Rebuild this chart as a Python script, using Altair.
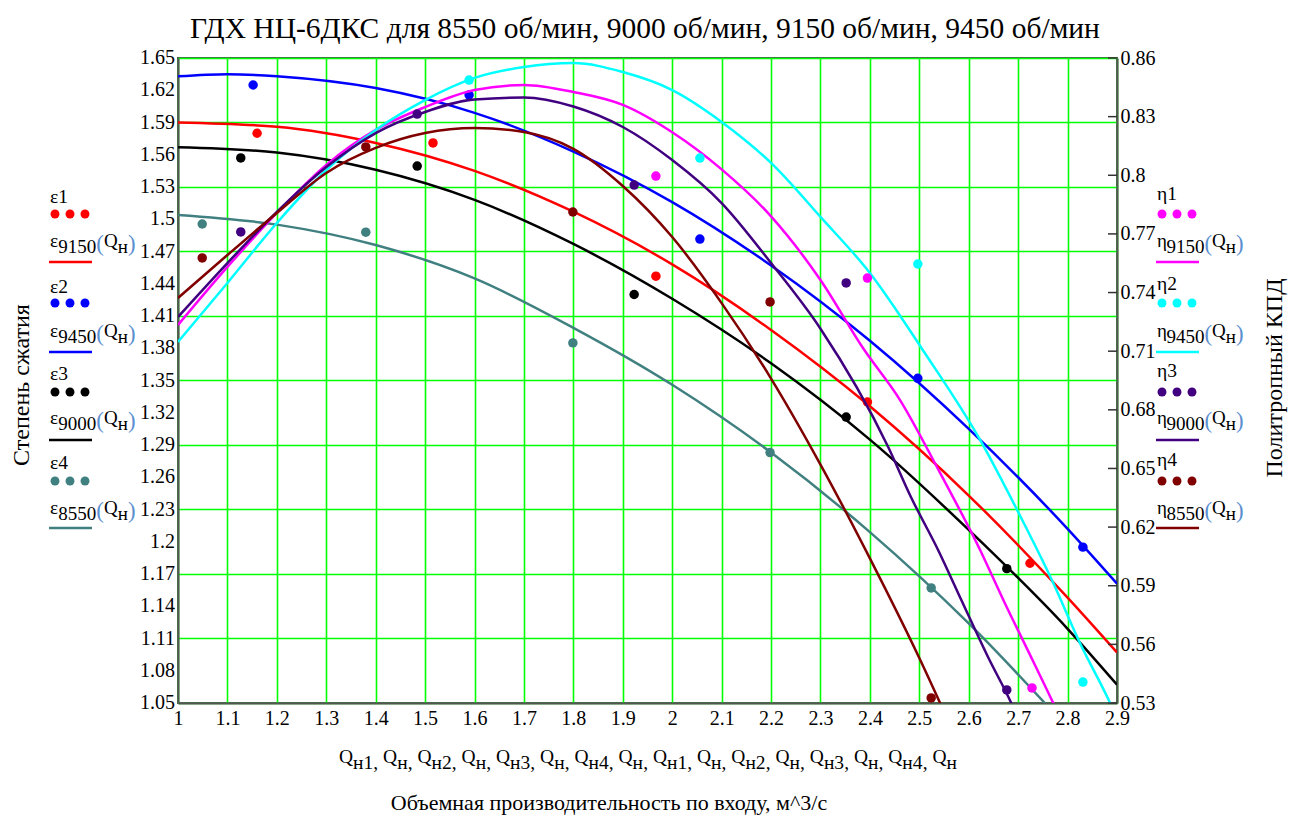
import altair as alt
import pandas as pd

# ---------------- data ----------------
X_TICKS = [1.0, 1.1, 1.2, 1.3, 1.4, 1.5, 1.6, 1.7, 1.8, 1.9, 2.0,
           2.1, 2.2, 2.3, 2.4, 2.5, 2.6, 2.7, 2.8, 2.9]
EPS_TICKS = [1.05, 1.08, 1.11, 1.14, 1.17, 1.2, 1.23, 1.26, 1.29, 1.32, 1.35,
             1.38, 1.41, 1.44, 1.47, 1.5, 1.53, 1.56, 1.59, 1.62, 1.65]
EPS_LABELS = ["1.05", "1.08", "1.11", "1.14", "1.17", "1.2", "1.23", "1.26", "1.29", "1.32", "1.35",
              "1.38", "1.41", "1.44", "1.47", "1.5", "1.53", "1.56", "1.59", "1.62", "1.65"]
ETA_TICKS = [0.53, 0.56, 0.59, 0.62, 0.65, 0.68, 0.71, 0.74, 0.77, 0.8, 0.83, 0.86]

# measured points (Q, eps) per speed
q_9150 = [1.160, 1.516, 1.967, 2.395, 2.724]
eps1 = [1.580, 1.571, 1.447, 1.330, 1.180]
q_9450 = [1.152, 1.589, 2.056, 2.497, 2.831]
eps2 = [1.6249, 1.6156, 1.4816, 1.352, 1.195]
q_9000 = [1.127, 1.484, 1.923, 2.352, 2.677]
eps3 = [1.557, 1.5495, 1.430, 1.316, 1.175]
q_8550 = [1.049, 1.380, 1.799, 2.198, 2.524]
eps4 = [1.4956, 1.488, 1.385, 1.283, 1.157]

# measured points (Q, eta) that are visible
qh_9150 = [1.967, 2.395, 2.728]
eta1 = [0.7996, 0.7474, 0.5377]
qh_9450 = [1.589, 2.056, 2.497, 2.831]
eta2 = [0.8487, 0.8088, 0.7546, 0.5407]
qh_9000 = [1.127, 1.484, 1.923, 2.352, 2.677]
eta3 = [0.771, 0.8313, 0.795, 0.7449, 0.5367]
qh_8550 = [1.049, 1.380, 1.799, 2.198, 2.524]
eta4 = [0.7577, 0.8145, 0.7812, 0.7352, 0.5326]

# fitted curves
cq_e = [1.0, 1.2, 1.4, 1.6, 1.8, 2.0, 2.2, 2.4, 2.6, 2.8, 2.9]
e9150 = [1.590, 1.586, 1.571, 1.545, 1.507, 1.458, 1.397, 1.326, 1.243, 1.148, 1.097]
cq_e9450 = [1.0, 1.1, 1.2, 1.4, 1.6, 1.8, 2.0, 2.2, 2.4, 2.6, 2.8, 2.9]
e9450 = [1.633, 1.635, 1.633, 1.622, 1.599, 1.563, 1.516, 1.457, 1.387, 1.305, 1.212, 1.161]
e9000 = [1.567, 1.562, 1.546, 1.518, 1.477, 1.426, 1.366, 1.295, 1.211, 1.119, 1.067]
cq_e8550 = [1.0, 1.2, 1.4, 1.6, 1.8, 2.0, 2.2, 2.4, 2.6, 2.8]
e8550 = [1.504, 1.495, 1.476, 1.445, 1.399, 1.346, 1.283, 1.209, 1.124, 1.027]

cq_h9150 = [1.0, 1.1, 1.2, 1.3, 1.4, 1.5, 1.6, 1.7, 1.8, 1.9, 2.0, 2.1, 2.2, 2.3,
            2.386, 2.461, 2.542, 2.623, 2.670, 2.731, 2.771, 2.8]
h9150 = [0.7234, 0.7531, 0.7807, 0.8053, 0.8232, 0.8349, 0.8436, 0.8462, 0.8426, 0.836,
         0.822, 0.803, 0.779, 0.7464, 0.7116, 0.685, 0.6477, 0.6083, 0.5827, 0.551, 0.53, 0.515]
cq_h9450 = [1.0, 1.1, 1.2, 1.3, 1.4, 1.5, 1.6, 1.7, 1.8, 1.9, 2.0, 2.1, 2.2, 2.3, 2.4,
            2.507, 2.623, 2.698, 2.771, 2.825, 2.886, 2.92]
h9450 = [0.7147, 0.7449, 0.7756, 0.8027, 0.8232, 0.8385, 0.8498, 0.8554, 0.8574, 0.8528,
         0.8436, 0.8273, 0.8063, 0.7787, 0.75, 0.7106, 0.6646, 0.6287, 0.5914, 0.5607, 0.53, 0.51]
cq_h9000 = [1.0, 1.1, 1.2, 1.3, 1.4, 1.5, 1.6, 1.7, 1.8, 1.9, 2.0, 2.1, 2.2, 2.3,
            2.437, 2.483, 2.538, 2.585, 2.639, 2.686, 2.72]
h9000 = [0.7275, 0.7551, 0.7812, 0.8042, 0.8216, 0.8324, 0.8388, 0.8398, 0.8352, 0.8247,
         0.8078, 0.7858, 0.7551, 0.7215, 0.661, 0.6354, 0.6083, 0.5827, 0.5535, 0.53, 0.51]
cq_h8550 = [1.0, 1.1, 1.2, 1.3, 1.4, 1.5, 1.6, 1.7, 1.8, 1.9, 2.0, 2.1, 2.2, 2.3, 2.4, 2.5, 2.56]
h8550 = [0.7372, 0.7592, 0.7807, 0.8012, 0.814, 0.8216, 0.8242, 0.8221, 0.8135, 0.7945,
         0.7684, 0.7346, 0.696, 0.652, 0.604, 0.553, 0.52]

RED, BLUE, BLACK, TEAL = "#ff0000", "#0000ff", "#000000", "#408080"
MAG, CYAN, PURP, BROWN = "#ff00ff", "#00ffff", "#400080", "#800000"

TITLE = "ГДХ НЦ-6ДКС для 8550 об/мин, 9000 об/мин, 9150 об/мин, 9450 об/мин"
XTITLE = "Объемная производительность по входу, м^3/с"
YTITLE_L = "Степень сжатия"
YTITLE_R = "Политропный КПД"

FONT = "Liberation Serif"
W, H = 939, 645
OX, OY = 178, 58  # plot origin in the page

# ---------------- tables ----------------
def pts(q, v, c, s):
    return pd.DataFrame({"q": q, "v": v, "c": c, "s": s})

eps_pts = pd.concat([pts(q_9150, eps1, RED, "e1"), pts(q_9450, eps2, BLUE, "e2"),
                     pts(q_9000, eps3, BLACK, "e3"), pts(q_8550, eps4, TEAL, "e4")])
eta_pts = pd.concat([pts(qh_9150, eta1, MAG, "h1"), pts(qh_9450, eta2, CYAN, "h2"),
                     pts(qh_9000, eta3, PURP, "h3"), pts(qh_8550, eta4, BROWN, "h4")])
eps_lines = pd.concat([pts(cq_e, e9150, RED, "e9150"), pts(cq_e9450, e9450, BLUE, "e9450"),
                       pts(cq_e, e9000, BLACK, "e9000"), pts(cq_e8550, e8550, TEAL, "e8550")])
eta_lines = pd.concat([pts(cq_h9150, h9150, MAG, "h9150"), pts(cq_h9450, h9450, CYAN, "h9450"),
                       pts(cq_h9000, h9000, PURP, "h9000"), pts(cq_h8550, h8550, BROWN, "h8550")])

xs = alt.Scale(domain=[1.0, 2.9], nice=False, zero=False)
ys_e = alt.Scale(domain=[1.05, 1.65], nice=False, zero=False)
ys_h = alt.Scale(domain=[0.53, 0.86], nice=False, zero=False)

TICK_FS = 20
x_axis = alt.Axis(values=X_TICKS, format=".1~f", grid=True, gridColor="#00ff00",
                  gridWidth=1.6, tickSize=0, labelFont=FONT, labelFontSize=TICK_FS,
                  labelColor="#000", labelPadding=5, domainColor="#555", domainWidth=2,
                  title=None, labelFlush=False, labelOverlap=False)
yl_axis = alt.Axis(values=EPS_TICKS, grid=True, gridColor="#00ff00",
                   gridWidth=1.6, tickSize=0, labels=False,
                   domainColor="#555", domainWidth=2, title=None, orient="left")
yr_axis = alt.Axis(values=ETA_TICKS, format=".2~f", grid=False, tickSize=0,
                   labelFont=FONT, labelFontSize=TICK_FS, labelColor="#000", labelPadding=3,
                   domainColor="#555", domainWidth=2, title=None, orient="right",
                   labelFlush=False, labelOverlap=False)

eps_line_l = alt.Chart(eps_lines).mark_line(strokeWidth=2.5, clip=True, interpolate="monotone").encode(
    x=alt.X("q:Q", scale=xs, axis=x_axis),
    y=alt.Y("v:Q", scale=ys_e, axis=yl_axis),
    color=alt.Color("c:N", scale=None), detail="s:N")
eps_pt_l = alt.Chart(eps_pts).mark_circle(size=90, opacity=1, clip=True).encode(
    x=alt.X("q:Q", scale=xs), y=alt.Y("v:Q", scale=ys_e),
    color=alt.Color("c:N", scale=None))
eps_labels = alt.Chart(pd.DataFrame({"t": EPS_TICKS, "lab": EPS_LABELS})).mark_text(
    align="right", baseline="middle", font=FONT, fontSize=TICK_FS, color="#000", dx=-3).encode(
    y=alt.Y("t:Q", scale=ys_e), x=alt.value(0), text="lab:N")
eps_group = alt.layer(eps_line_l, eps_pt_l, eps_labels)

eta_line_l = alt.Chart(eta_lines).mark_line(strokeWidth=2.5, clip=True, interpolate="monotone").encode(
    x=alt.X("q:Q", scale=xs),
    y=alt.Y("v:Q", scale=ys_h, axis=yr_axis),
    color=alt.Color("c:N", scale=None), detail="s:N")
eta_pt_l = alt.Chart(eta_pts).mark_circle(size=90, opacity=1, clip=True).encode(
    x=alt.X("q:Q", scale=xs), y=alt.Y("v:Q", scale=ys_h),
    color=alt.Color("c:N", scale=None))
eta_ticks = alt.Chart(pd.DataFrame({"t": ETA_TICKS})).mark_rule(color="#333", strokeWidth=1.5).encode(
    y=alt.Y("t:Q", scale=ys_h), x=alt.value(W - 9), x2=alt.value(W))
eta_group = alt.layer(eta_line_l, eta_pt_l, eta_ticks)

# ---------------- legend / caption text (page pixel layout) ----------------
CW = {"Q": 0.722, "н": 0.54, "ε": 0.44, "η": 0.5, "(": 0.333, ")": 0.333,
      ",": 0.25, " ": 0.25, ".": 0.25, "/": 0.278}

def width(s, fs):
    return sum(CW.get(ch, 0.5) for ch in s) * fs

rows = []

def rich(pieces, x0, yb, fs):
    x = x0
    for txt, kind, col in pieces:
        f = fs * 1.2 if kind == "p" else fs
        dy = {"n": 0, "s": 6, "p": 4}[kind]
        rows.append({"px": x - OX, "py": yb + dy - OY, "text": txt, "fs": f, "color": col})
        x += width(txt, f)
    return x

PAREN = "#5b8fd0"
legend_y = {"name": [203, 293, 380, 469], "dots": [214, 303, 392, 481],
            "func": [247, 337, 424, 514], "line": [262, 352, 440, 528]}
left_items = [("ε1", "9150", RED), ("ε2", "9450", BLUE), ("ε3", "9000", BLACK), ("ε4", "8550", TEAL)]
right_items = [("η1", "9150", MAG), ("η2", "9450", CYAN), ("η3", "9000", PURP), ("η4", "8550", BROWN)]

dots, lines = [], []
for items, x0, dy_name in ((left_items, 50, 0), (right_items, 1157, -3)):
    for i, (nm, sp, col) in enumerate(items):
        rows.append({"px": x0 - OX, "py": legend_y["name"][i] + dy_name - OY, "text": nm,
                     "fs": 19.5, "color": "#000"})
        sym = nm[0]
        rich([(sym, "n", "#000"), (sp, "s", "#000"), ("(", "p", PAREN), ("Q", "n", "#000"),
              ("н", "s", "#000"), (")", "p", PAREN)], x0, legend_y["func"][i], 19)
        for k in range(3):
            dots.append({"px": x0 + 5 + 15 * k - OX, "py": legend_y["dots"][i] - OY, "color": col})
        lines.append({"px": x0 - 1 - OX, "px2": x0 + 42 - OX, "py": legend_y["line"][i] - OY, "color": col})

# axis caption line of Q symbols
q_sub = ["н1", "н", "н2", "н", "н3", "н", "н4", "н", "н1", "н", "н2", "н", "н3", "н", "н4", "н"]
pieces = []
for k, s in enumerate(q_sub):
    pieces.append(("Q", "n", "#000"))
    pieces.append((s, "s", "#000"))
    if k < len(q_sub) - 1:
        pieces.append((", ", "s", "#000"))
total = sum(width(t, 19.5) for t, _, _ in pieces)
rich(pieces, 648 - total / 2, 763, 19.5)

rich_df = pd.DataFrame(rows)
dots_df = pd.DataFrame(dots)
lines_df = pd.DataFrame(lines)

px_x = alt.X("px:Q", scale=None, axis=None)
px_y = alt.Y("py:Q", scale=None, axis=None)

rich_layer = alt.Chart(rich_df).mark_text(align="left", baseline="alphabetic", font=FONT).encode(
    x=px_x, y=px_y, text="text:N",
    size=alt.Size("fs:Q", scale=None, legend=None),
    color=alt.Color("color:N", scale=None, legend=None))
dots_layer = alt.Chart(dots_df).mark_circle(size=80, opacity=1).encode(
    x=px_x, y=px_y, color=alt.Color("color:N", scale=None, legend=None))
lines_layer = alt.Chart(lines_df).mark_rule(strokeWidth=2.5).encode(
    x=px_x, x2="px2:Q", y=px_y, color=alt.Color("color:N", scale=None, legend=None))

def label(text, x, y, fs, angle=0):
    return alt.Chart(pd.DataFrame({"t": [text]})).mark_text(
        font=FONT, fontSize=fs, color="#000", align="center", baseline="middle",
        angle=angle).encode(x=alt.value(x - OX), y=alt.value(y - OY), text="t:N")

titles = alt.layer(
    label(TITLE, 645, 29, 29.5),
    label(XTITLE, 609, 803, 22),
    label(YTITLE_L, 22, 385, 24, 270),
    label(YTITLE_R, 1275, 378, 24, 270),
)

chart = alt.layer(eps_group, eta_group, rich_layer, dots_layer, lines_layer, titles).resolve_scale(
    y="independent"
).properties(
    width=W, height=H,
    autosize=alt.AutoSizeParams(type="none"),
    padding={"left": OX, "top": OY, "right": 1292 - OX - W, "bottom": 818 - OY - H},
    background="#ffffff",
).configure_view(stroke="#555555", strokeWidth=2)

chart.save("out.html", embed_options={"renderer": "svg", "actions": False})
